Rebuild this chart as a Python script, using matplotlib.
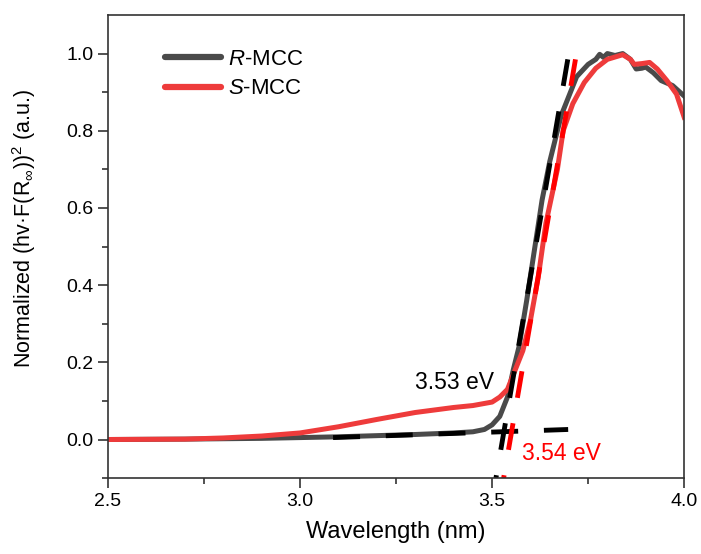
import matplotlib
matplotlib.use("Agg")
import matplotlib.pyplot as plt

plt.rcParams['font.family'] = ['Liberation Sans', 'DejaVu Sans']
plt.rcParams['mathtext.fontset'] = 'custom'
plt.rcParams['mathtext.rm'] = 'Liberation Sans'
plt.rcParams['mathtext.it'] = 'Liberation Sans:italic'

# R-MCC spectrum (photon energy, normalized)
r_x = [2.50, 2.70, 2.90, 3.00, 3.10, 3.20, 3.30, 3.40, 3.45, 3.48, 3.50, 3.52,
       3.54, 3.555, 3.57, 3.59, 3.61, 3.63, 3.65, 3.68, 3.70, 3.72, 3.75, 3.77,
       3.78, 3.79, 3.80, 3.82, 3.84, 3.86, 3.875, 3.89, 3.90, 3.92, 3.94, 3.97, 4.00]
r_y = [0.000, 0.001, 0.003, 0.005, 0.007, 0.010, 0.013, 0.017, 0.020, 0.026, 0.038, 0.060,
       0.110, 0.180, 0.240, 0.360, 0.490, 0.620, 0.720, 0.840, 0.890, 0.940, 0.972, 0.985,
       0.998, 0.990, 1.000, 0.995, 1.000, 0.985, 0.960, 0.962, 0.965, 0.950, 0.930, 0.917, 0.890]

# S-MCC spectrum
s_x = [2.50, 2.70, 2.80, 2.90, 3.00, 3.10, 3.20, 3.30, 3.40, 3.45, 3.50, 3.52,
       3.54, 3.56, 3.58, 3.60, 3.62, 3.64, 3.67, 3.685, 3.71, 3.74, 3.77, 3.80,
       3.84, 3.86, 3.87, 3.89, 3.91, 3.93, 3.955, 3.98, 4.00]
s_y = [0.000, 0.001, 0.004, 0.009, 0.017, 0.033, 0.052, 0.070, 0.083, 0.088, 0.097, 0.110,
       0.130, 0.180, 0.230, 0.310, 0.420, 0.560, 0.700, 0.800, 0.870, 0.925, 0.962, 0.985,
       0.997, 0.985, 0.972, 0.974, 0.977, 0.960, 0.930, 0.895, 0.835]

# tangent / baseline fits
base_x = [3.086, 3.698]
base_y = [0.005, 0.026]
r_tan_x = [3.697, 3.510]
r_tan_y = [0.985, -0.100]
s_tan_x = [3.717, 3.530]
s_tan_y = [0.985, -0.100]

fig = plt.figure(figsize=(7.01, 5.54), dpi=100)
ax = fig.add_axes([0.154, 0.137, 0.822, 0.836])

ax.plot(r_x, r_y, color='#4a4a4a', lw=3.6, label='$R$-MCC', solid_joinstyle='round')
ax.plot(s_x, s_y, color='#ee3b3b', lw=3.6, label='$S$-MCC', solid_joinstyle='round')

dash = (5.55, 5.3)
ax.plot(base_x, base_y, color='black', lw=3.5, dashes=dash, dash_capstyle='butt')
ax.plot(r_tan_x, r_tan_y, color='black', lw=3.5, dashes=dash, dash_capstyle='butt')
ax.plot(s_tan_x, s_tan_y, color='#ff0000', lw=3.5, dashes=dash, dash_capstyle='butt')

ax.text(3.30, 0.148, '3.53 eV', fontsize=16.5, color='black', va='center')
ax.text(3.578, -0.036, '3.54 eV', fontsize=16.5, color='#ff0000', va='center')

ax.set_xlim(2.5, 4.0)
ax.set_ylim(-0.1, 1.1)
ax.set_xticks([2.5, 3.0, 3.5, 4.0])
ax.set_xticks([2.75, 3.25, 3.75], minor=True)
ax.set_yticks([0.0, 0.2, 0.4, 0.6, 0.8, 1.0])
ax.set_yticks([-0.1, 0.1, 0.3, 0.5, 0.7, 0.9], minor=True)
ax.set_xticklabels(['2.5', '3.0', '3.5', '4.0'])
ax.set_yticklabels(['0.0', '0.2', '0.4', '0.6', '0.8', '1.0'])
ax.tick_params(which='major', direction='out', length=7, width=1.2, labelsize=14,
               colors='#333333', labelcolor='black')
ax.tick_params(which='minor', direction='out', length=4, width=1.2, colors='#333333')
for s in ax.spines.values():
    s.set_linewidth(1.2)
    s.set_color('#333333')

ax.set_xlabel('Wavelength (nm)', fontsize=17, labelpad=8)
ax.set_ylabel('Normalized (hv·F(R$_{∞}$))$^{2}$ (a.u.)', fontsize=15.5)
ax.yaxis.set_label_coords(-0.122, 0.54)

leg = ax.legend(loc='upper left', frameon=False, fontsize=16, handlelength=2.5,
                handletextpad=0.3, labelspacing=0.38, bbox_to_anchor=(0.065, 0.97))
for line in leg.get_lines():
    line.set_linewidth(4.5)
    line.set_solid_capstyle('round')

fig.savefig('out.png', dpi=100)
